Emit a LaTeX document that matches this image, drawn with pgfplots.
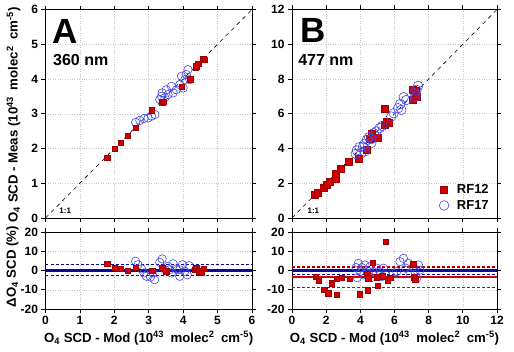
\documentclass[border=0pt]{standalone}
\usepackage{fontspec}
\setmainfont{Liberation Sans}
\usepackage{pgfplots}
\pgfplotsset{compat=1.18}
\definecolor{sqred}{HTML}{D00000}
\definecolor{sqedge}{HTML}{A00000}
\definecolor{cblue}{HTML}{4646E6}
\definecolor{lblue}{HTML}{0A0A9A}
\definecolor{lred}{HTML}{D00000}
\newcommand{\unitstr}{(10\textsuperscript{43}\hspace{3pt} molec\textsuperscript{2}\hspace{3pt} cm\textsuperscript{-5})}
\pgfplotsset{
 base/.style={scale only axis, axis line style={line width=0.8pt}, tick align=outside,
   major tick length=4pt, tick style={black, line width=0.8pt}, grid=major,
   grid style={gray!45, dotted, line width=0.5pt},
   ticklabel style={font=\bfseries\fontsize{12}{12}\selectfont},
   /pgf/number format/assume math mode=true,
   xlabel style={font=\bfseries\fontsize{13.2}{14}\selectfont},
   ylabel style={font=\bfseries\fontsize{13.2}{14}\selectfont}},
 redsq/.style={only marks, mark=square*, mark size=2.7pt, mark options={fill=sqred, draw=sqedge, line width=0.4pt}},
 blueo/.style={only marks, mark=o, mark size=4.2pt, mark options={draw=cblue, line width=0.6pt}},
 dsh/.style={dash pattern=on 3pt off 2pt, line width=0.8pt},
}
\begin{document}
\begin{tikzpicture}
\useasboundingbox (0pt,0pt) rectangle (514pt,351pt);
% ---------------- Top A
\begin{axis}[base, at={(45.5pt,133pt)}, anchor=south west, width=206.5pt, height=208.5pt,
  xmin=0, xmax=6, ymin=0, ymax=6, xtick={0,...,6}, ytick={0,...,6}, xticklabels={},
  ylabel={O\textsubscript{4} SCD - Meas \unitstr},
  ylabel style={at={(axis description cs:-0.155,0.494)}, anchor=center}]
\addplot[blueo] coordinates {(2.62,2.75) (2.74,2.81) (2.86,2.86) (2.98,2.88) (3.08,2.93) (3.18,2.98)
 (3.32,3.41) (3.39,3.60) (3.47,3.46) (3.56,3.55) (3.66,3.79) (3.71,3.60) (3.80,3.69) (3.90,3.84)
 (3.95,4.08) (4.05,3.98) (4.09,4.13) (4.14,4.27) (4.19,3.98) (4.00,3.74) (3.51,3.69) (3.37,3.50)};
\addplot[redsq] coordinates {(1.79,1.73) (2.01,1.99) (2.18,2.16) (2.38,2.37) (2.62,2.60) (3.08,3.10)
 (3.39,3.33) (3.42,3.35) (3.95,3.78) (4.20,4.00) (4.37,4.32) (4.38,4.37) (4.44,4.44) (4.58,4.58) (4.62,4.56)};
\addplot[black, dash pattern=on 4pt off 4pt, line width=0.6pt] coordinates {(0,0) (6,6)};
\node[anchor=north west, inner sep=0pt, font=\bfseries\fontsize{35}{35}\selectfont] at (rel axis cs:0.035,0.952) {A};
\node[anchor=north west, inner sep=0pt, font=\bfseries\fontsize{16}{16}\selectfont] at (rel axis cs:0.036,0.784) {360 nm};
\node[anchor=west, inner sep=0pt, font=\bfseries\fontsize{8}{8}\selectfont] at (axis cs:0.4,0.2) {1:1};
\end{axis}
% ---------------- Bottom A
\begin{axis}[base, at={(45.5pt,42pt)}, anchor=south west, width=206.5pt, height=77pt,
  xmin=0, xmax=6, ymin=-20, ymax=20, xtick={0,...,6}, ytick={-20,-10,0,10,20},
  ylabel={ΔO\textsubscript{4} SCD (\%)},
  ylabel style={at={(axis description cs:-0.16,0.55)}, anchor=center},
  xlabel={O\textsubscript{4} SCD - Mod \unitstr},
  xlabel style={at={(axis description cs:0.5,-0.38)}, anchor=center}]
\addplot[lblue, line width=2.5pt] coordinates {(0,0) (6,0)};
\addplot[lblue, dsh] coordinates {(0,3.0) (6,3.0)};
\addplot[lblue, dsh] coordinates {(0,-2.5) (6,-2.5)};
\addplot[blueo] coordinates {(2.62,4.8) (2.69,3.0) (2.79,0.8) (2.86,-1.3) (2.93,-3.0) (3.05,-3.4) (3.12,-1.3)
 (3.17,-4.8) (3.32,4.2) (3.39,6.0) (3.47,0.4) (3.56,2.2) (3.61,0.4) (3.66,-1.3) (3.71,3.5) (3.80,0.8)
 (3.90,-3.0) (3.90,0.4) (3.98,3.0) (4.05,-0.4) (4.12,-2.2) (4.17,2.5)};
\addplot[redsq] coordinates {(1.79,3.4) (2.01,1.3) (2.18,1.0) (2.38,0) (2.62,1.3) (3.10,0) (3.39,1.3)
 (3.51,-0.4) (4.34,0.4) (4.38,1.6) (4.45,-0.4) (4.53,-1.0) (4.60,0.8)};
\end{axis}
% ---------------- Top B
\begin{axis}[base, at={(292pt,133pt)}, anchor=south west, width=205pt, height=208.5pt,
  xmin=0, xmax=12, ymin=0, ymax=12, xtick={0,2,...,12}, ytick={0,2,...,12}, xticklabels={},
  legend style={at={(0.985,0.015)}, anchor=south east, draw=none, fill=none,
    font=\bfseries\fontsize{13}{13}\selectfont, row sep=1pt},
  legend cell align=left]
\addplot[redsq, mark size=3.5pt] coordinates {(1.33,1.34) (1.52,1.47) (1.85,1.72) (2.05,1.91) (2.20,2.11) (2.56,2.24)
 (2.56,2.55) (2.83,2.81) (3.34,3.22) (3.92,3.44) (4.35,3.92) (4.55,4.59) (4.64,4.88) (4.99,4.63)
 (5.40,6.28) (5.42,5.36) (5.56,5.55) (5.68,5.49) (7.08,7.41) (7.08,6.83) (7.22,7.33) (7.28,6.99)};
\addlegendentry{\hspace{6pt}RF12}
\addplot[blueo, mark size=4.8pt] coordinates {(3.73,3.69) (3.80,3.89) (3.96,4.08) (4.16,4.11) (4.25,4.27) (4.39,4.50)
 (4.51,4.65) (4.64,4.54) (4.78,4.88) (4.94,4.98) (5.13,5.17) (5.29,5.30) (5.81,5.84) (5.95,6.03)
 (6.21,6.32) (6.34,6.56) (6.40,6.22) (6.54,6.95) (6.69,6.79) (7.18,7.18) (7.28,7.37) (7.38,7.60)
 (7.24,6.99) (4.06,3.73) (4.25,3.83) (4.64,4.31)};
\addlegendentry{\hspace{6pt}RF17}
\addplot[black, dash pattern=on 4pt off 4pt, line width=0.6pt, forget plot] coordinates {(0,0) (12,12)};
\node[anchor=north west, inner sep=0pt, font=\bfseries\fontsize{35}{35}\selectfont] at (rel axis cs:0.039,0.958) {B};
\node[anchor=north west, inner sep=0pt, font=\bfseries\fontsize{16}{16}\selectfont] at (rel axis cs:0.03,0.784) {477 nm};
\node[anchor=west, inner sep=0pt, font=\bfseries\fontsize{8}{8}\selectfont] at (axis cs:0.9,0.4) {1:1};
\end{axis}
% ---------------- Bottom B
\begin{axis}[base, at={(292pt,42pt)}, anchor=south west, width=205pt, height=77pt,
  xmin=0, xmax=12, ymin=-20, ymax=20, xtick={0,2,...,12}, ytick={-20,-10,0,10,20},
  xlabel={O\textsubscript{4} SCD - Mod \unitstr},
  xlabel style={at={(axis description cs:0.5,-0.38)}, anchor=center}]
\addplot[lblue, line width=2.5pt] coordinates {(0,-0.1) (12,-0.1)};
\addplot[lblue, dsh] coordinates {(0,1.6) (12,1.6)};
\addplot[lblue, dsh] coordinates {(0,-1.8) (12,-1.8)};
\addplot[lred, line width=2.5pt] coordinates {(0,-3.3) (12,-3.3)};
\addplot[lred, dsh] coordinates {(0,2.1) (12,2.1)};
\addplot[lred, dsh] coordinates {(0,-8.8) (12,-8.8)};
\addplot[blueo] coordinates {(3.75,1.5) (3.88,3.7) (3.98,-0.6) (3.82,-3.7) (4.08,1.5) (4.27,2.9) (4.37,0.2)
 (4.18,-2.3) (4.47,-1.5) (4.57,2.0) (4.66,-3.7) (4.76,-0.6) (4.96,1.2) (5.15,-0.6) (5.25,-3.2) (5.35,1.2)
 (5.45,-1.9) (5.93,-1.5) (6.13,-0.6) (6.32,4.6) (6.52,6.3) (6.67,1.2) (6.81,3.7) (6.91,-1.5) (7.10,1.9)
 (7.20,-0.6) (7.30,-4.0) (7.40,2.9) (7.49,0.2)};
\addplot[redsq] coordinates {(1.39,-3.2) (1.55,-5.4) (1.89,-10.1) (2.12,-11.7) (2.31,-6.7) (2.60,-12.7)
 (2.60,-4.4) (2.92,-3.7) (3.39,-4.4) (3.98,-12.4) (4.40,-2.0) (4.42,-10.3) (4.47,-4.1) (4.73,4.2)
 (4.95,-3.4) (5.00,-8.0) (5.30,-3.0) (5.50,15.0) (5.60,-5.4) (5.74,-3.7) (7.10,3.2) (7.15,-3.4) (7.20,-4.5)};
\end{axis}
\end{tikzpicture}
\end{document}
